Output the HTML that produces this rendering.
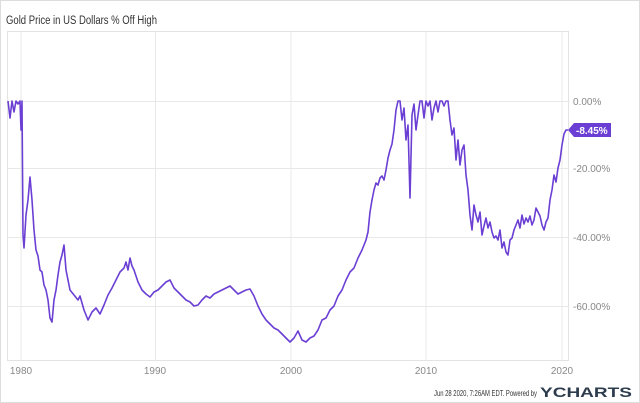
<!DOCTYPE html>
<html><head><style>
body{margin:0;background:#fff;}
svg{display:block;font-family:"Liberation Sans",sans-serif;}
</style></head><body>
<svg width="640" height="403" viewBox="0 0 640 403">
<rect x="0.5" y="0.5" width="639" height="402" fill="#fff" stroke="#ddd"/>
<text x="6" y="24" font-size="11.5" fill="#333" textLength="151" lengthAdjust="spacingAndGlyphs">Gold Price in US Dollars % Off High</text>
<rect x="7.5" y="31.5" width="561" height="329" fill="none" stroke="#e3e3e3"/>
<g stroke="#e8e8e8" stroke-width="1">
<line x1="21" y1="32" x2="21" y2="360"/><line x1="155.5" y1="32" x2="155.5" y2="360"/>
<line x1="291" y1="32" x2="291" y2="360"/><line x1="426" y1="32" x2="426" y2="360"/>
<line x1="562" y1="32" x2="562" y2="360"/>
<line x1="8" y1="101.5" x2="568" y2="101.5"/><line x1="8" y1="168.5" x2="568" y2="168.5"/>
<line x1="8" y1="237.5" x2="568" y2="237.5"/><line x1="8" y1="306.5" x2="568" y2="306.5"/>
</g>
<g font-size="10" fill="#888">
<text x="573" y="105">0.00%</text><text x="573" y="172">-20.00%</text>
<text x="573" y="241">-40.00%</text><text x="573" y="310">-60.00%</text>
<text x="21" y="374" text-anchor="middle">1980</text><text x="155" y="374" text-anchor="middle">1990</text>
<text x="291" y="374" text-anchor="middle">2000</text><text x="426" y="374" text-anchor="middle">2010</text>
<text x="562" y="374" text-anchor="middle">2020</text>
</g>
<polyline fill="none" stroke="#6b3fd4" stroke-width="1.6" stroke-linejoin="round" points="
8,101 10,118 12,101 14,112 16,101 18,104 20,101 21,130 22,101 23,235 24,248 26,215 28,200 30,177 32,200 34,230 36,250 38,256 40,270 42,272 44,285 46,290 48,300 50,318 52,322 54,300 56,290 58,275 60,262 62,255 64,245 66,270 68,280 70,290 74,295 78,300 80,296 84,310 88,320 92,312 96,308 100,314 104,305 108,295 112,288 116,280 120,272 124,268 126,262 128,270 130,258 132,266 134,270 138,282 142,290 146,294 150,297 154,292 158,290 162,286 166,282 170,280 174,288 178,292 182,296 186,300 190,302 194,306 198,305 202,300 206,296 210,298 214,294 218,292 222,290 226,288 230,286 234,290 238,294 242,292 246,290 250,289 254,296 258,306 262,314 266,320 270,324 274,328 278,330 282,334 286,338 290,342 294,338 298,331 302,340 306,342 310,338 314,336 318,330 322,320 326,318 330,310 334,306 338,296 342,290 346,280 350,272 354,268 358,258 362,250 366,240 368,232 370,212 372,200 374,190 376,183 378,185 380,178 382,176 384,180 386,170 388,158 390,150 392,144 394,130 396,110 398,101 400,101 402,120 404,108 406,140 408,125 410,198 412,115 414,104 416,130 418,115 420,101 422,101 424,118 426,101 428,106 430,101 432,120 434,108 436,101 438,112 440,101 442,101 444,106 446,101 448,101 450,120 452,135 454,128 456,160 458,140 460,165 462,150 464,145 466,175 468,190 470,215 472,230 474,205 476,215 478,222 480,212 482,235 484,226 486,218 488,228 490,222 492,232 494,238 496,236 498,240 500,230 502,248 504,242 506,252 508,255 510,240 512,238 514,230 516,225 518,220 520,228 522,215 524,224 526,218 528,222 530,216 532,225 534,220 536,208 538,212 540,216 542,225 544,230 546,222 548,218 550,200 552,190 554,175 556,182 558,168 560,160 562,145 564,134 566,130 568,130"/>
<path d="M568 130 L574 123 L611 123 L611 137 L574 137 Z" fill="#6b3fd4"/>
<text x="576" y="134" font-size="10" font-weight="bold" fill="#fff">-8.45%</text>
<text x="434" y="396" font-size="8.5" fill="#333" textLength="103" lengthAdjust="spacingAndGlyphs">Jun 28 2020, 7:26AM EDT.  Powered by</text>
<text x="540" y="397" font-size="14" font-weight="bold" fill="#2d3c4d" textLength="92" lengthAdjust="spacingAndGlyphs">YCHARTS</text>
</svg>
</body></html>
